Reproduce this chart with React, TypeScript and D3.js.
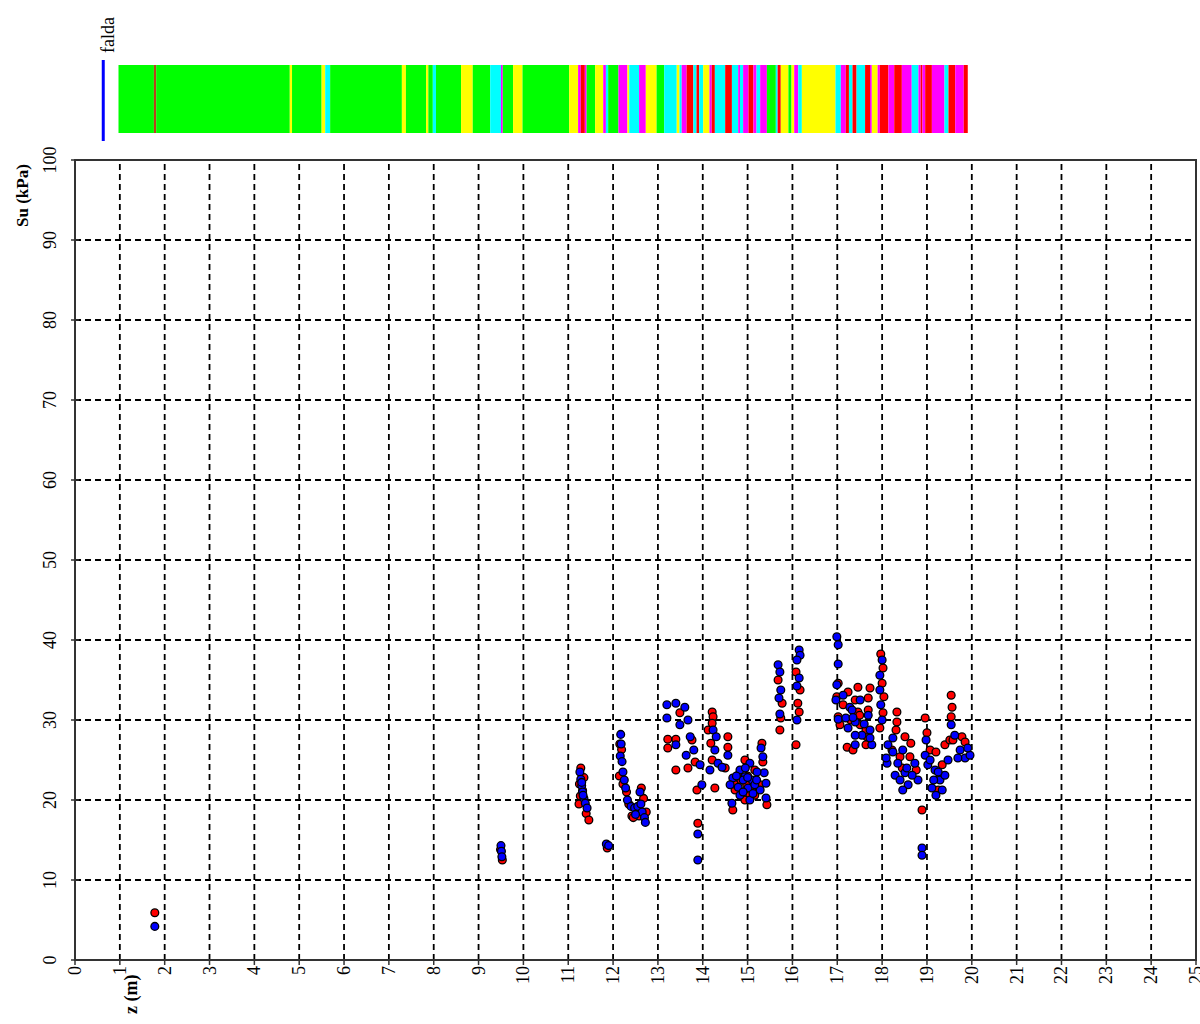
import React from "react";
import * as d3 from "d3";

// soil behaviour band along depth (m): top of each layer and its class
const bandTop = [
  0.97, 1.76, 1.81, 4.79, 4.84, 5.5, 5.58, 5.69, 7.29, 7.38, 7.83, 7.88, 7.98, 8.05, 8.61, 8.87, 9.26, 9.5, 9.54, 9.77,
  9.98, 11.02, 11.22, 11.28, 11.37, 11.41, 11.6, 11.78, 11.84, 11.89, 12.12, 12.32, 12.36, 12.58, 12.73, 12.97, 13.14,
  13.42, 13.48, 13.53, 13.64, 13.79, 13.86, 13.92, 14.01, 14.15, 14.2, 14.27, 14.5, 14.65, 14.79, 14.83, 14.9, 15.02,
  15.13, 15.2, 15.28, 15.43, 15.63, 15.67, 15.74, 15.91, 15.98, 16.04, 16.13, 16.21, 16.96, 17.08, 17.19, 17.26, 17.34,
  17.43, 17.62, 17.73, 17.77, 17.9, 17.95, 18.14, 18.27, 18.44, 18.66, 18.81, 18.86, 18.9, 18.96, 19.11, 19.39, 19.48,
  19.63, 19.82,
];
const bandClass = (
  "G B G Y G Y C G Y G " +
  "Y G C G Y G C M G Y " +
  "G Y M R M G Y M C G " +
  "M Y C M Y G C Y C M " +
  "R C R C Y M R C R C " +
  "M C M R M C M G C R " +
  "Y G Y M C Y C M R C " +
  "R C R M Y M R M R M " +
  "C M R M R M C R M R"
).split(" ");
const bandBottom = 19.91;
const bandColors: Record<string, string> = {
  G: "#00ff00",
  Y: "#ffff00",
  C: "#00ffff",
  M: "#ff00ff",
  R: "#ff0000",
  B: "#b8401c",
};

const faldaDepth = 0.63;

// [z (m), Su (kPa)]
const redPoints = [
  [1.78, 5.9],
  [9.49, 13.8], [9.53, 12.5],
  [11.28, 24.0], [11.25, 22.0], [11.27, 20.5], [11.24, 19.5], [11.4, 18.3], [11.46, 17.5], [11.35, 22.8], [11.32, 21.2],
  [11.87, 14.0],
  [12.15, 27.0], [12.19, 26.3], [12.14, 23.0], [12.22, 22.0], [12.3, 21.0], [12.35, 19.5], [12.42, 18.0], [12.52, 18.3],
  [12.58, 18.0], [12.63, 21.5], [12.68, 20.2], [12.74, 18.5], [12.45, 17.8],
  [13.22, 27.6], [13.22, 26.5], [13.4, 27.6], [13.4, 23.75], [13.76, 27.5], [13.83, 24.75], [13.67, 24.0], [13.87, 21.25],
  [13.89, 17.1], [13.49, 30.9],
  [14.21, 31.0], [14.23, 30.4], [14.21, 29.6], [14.18, 27.1], [14.21, 25.0], [14.27, 21.5], [14.12, 28.75],
  [14.56, 27.9], [14.56, 26.6], [14.5, 24.0], [14.94, 25.0], [15.16, 23.75], [14.87, 21.0], [15.16, 20.6], [15.05, 20.6],
  [15.34, 24.75], [15.32, 27.1], [15.43, 19.4], [14.67, 18.75], [14.79, 23.1], [15.28, 21.9], [14.94, 20.0], [14.72, 21.25],
  [14.7, 22.0], [14.85, 22.5], [15.0, 23.0], [15.1, 21.5], [14.98, 21.9],
  [15.68, 35.0], [15.77, 32.1], [15.74, 30.25], [15.72, 28.75],
  [16.08, 36.0], [16.17, 33.75], [16.12, 32.1], [16.15, 31.0], [16.08, 26.9],
  [17.02, 34.6], [16.99, 32.9],
  [17.24, 33.5], [17.46, 34.1], [17.73, 34.0], [17.02, 30.4], [17.69, 32.75], [17.69, 31.25], [17.22, 26.6], [17.66, 27.9],
  [17.4, 32.5], [17.46, 31.0], [17.51, 29.4], [17.35, 26.25], [17.64, 28.75], [17.64, 26.9], [17.06, 29.4], [17.13, 31.9],
  [17.3, 30.0], [17.5, 30.6],
  [17.97, 38.25], [18.02, 36.5], [18.0, 34.6], [18.04, 32.9], [18.02, 30.9], [17.95, 29.0],
  [18.33, 31.0], [18.33, 29.75], [18.31, 28.75], [18.51, 27.9], [18.64, 27.1], [18.62, 25.4], [18.76, 23.75], [18.4, 25.4],
  [18.22, 26.25], [18.45, 24.0],
  [18.96, 30.25], [19.0, 28.4], [19.07, 26.25], [18.89, 18.75],
  [19.2, 26.0], [19.34, 24.4], [19.4, 26.9], [19.25, 21.25], [19.51, 27.5], [19.3, 23.0],
  [19.54, 33.1], [19.56, 31.6], [19.54, 30.4], [19.58, 27.5], [19.78, 27.9], [19.85, 27.25],
];

const bluePoints = [
  [1.78, 4.2],
  [9.5, 14.3], [9.51, 13.6], [9.52, 12.9],
  [11.26, 23.5], [11.28, 22.6], [11.3, 21.8], [11.32, 21.0], [11.35, 20.2], [11.38, 19.6], [11.42, 19.0], [11.3, 22.2],
  [11.33, 20.6],
  [11.85, 14.5], [11.9, 14.3],
  [12.17, 28.2], [12.18, 27.0], [12.16, 25.5], [12.2, 24.8], [12.22, 23.5], [12.25, 22.5], [12.28, 21.5], [12.32, 20.0],
  [12.4, 19.2], [12.48, 19.0], [12.55, 19.2], [12.62, 19.5], [12.65, 18.5], [12.7, 17.8], [12.72, 17.2], [12.6, 21.0],
  [12.5, 18.2],
  [13.2, 31.9], [13.4, 32.1], [13.2, 30.25], [13.4, 26.9], [13.6, 31.6], [13.67, 30.0], [13.72, 27.9], [13.8, 26.25],
  [13.94, 24.4], [13.98, 21.9], [13.89, 15.75], [13.89, 12.5], [13.49, 29.4], [13.63, 25.6],
  [14.23, 28.75], [14.3, 27.9], [14.27, 26.25], [14.34, 24.6], [14.16, 23.75],
  [14.56, 25.6], [14.43, 24.1], [14.67, 22.75], [14.83, 23.75], [15.05, 24.6], [14.94, 22.9], [15.1, 22.5], [14.79, 21.6],
  [15.01, 21.5], [15.28, 21.25], [14.9, 22.5], [15.3, 26.5], [15.34, 25.4], [15.37, 23.4], [15.41, 22.1], [15.41, 20.25],
  [14.65, 19.6], [15.16, 21.9], [14.83, 20.6], [15.05, 20.0], [14.61, 21.9], [15.21, 23.5],
  [14.75, 23.0], [14.9, 21.0], [15.0, 22.8], [15.12, 20.8], [14.95, 24.0], [15.2, 22.5],
  [15.68, 36.9], [15.72, 36.0], [15.74, 33.75], [15.7, 32.75], [15.72, 30.75],
  [16.15, 38.75], [16.17, 38.1], [16.1, 37.5], [16.15, 35.25], [16.1, 34.25], [16.1, 30.0],
  [16.99, 40.4], [17.02, 39.4], [17.02, 37.0], [16.99, 34.4], [16.97, 32.5], [17.02, 30.1],
  [17.13, 33.1], [17.28, 31.6], [17.33, 31.25], [17.19, 30.25], [17.4, 29.75], [17.55, 28.1], [17.4, 26.9], [17.69, 30.6],
  [17.73, 28.75], [17.77, 26.9], [17.4, 28.1], [17.73, 27.75], [17.51, 32.5], [17.24, 29.0], [17.35, 30.3], [17.6, 29.5],
  [18.0, 37.5], [17.95, 35.6], [17.95, 33.75], [17.97, 31.9], [18.0, 30.0],
  [18.24, 27.75], [18.13, 26.9], [18.24, 26.0], [18.46, 26.25], [18.35, 24.6], [18.51, 23.4], [18.58, 21.9], [18.73, 24.6],
  [18.8, 22.5], [18.11, 24.6], [18.09, 25.25], [18.46, 21.25], [18.29, 23.1], [18.67, 23.1], [18.4, 22.5], [18.55, 24.0],
  [18.98, 27.5], [18.96, 25.6], [19.02, 24.4], [18.89, 14.0], [18.89, 13.1],
  [19.07, 25.0], [19.18, 23.75], [19.29, 22.5], [19.11, 21.5], [19.4, 23.1], [19.47, 25.0], [19.2, 20.6], [19.34, 21.25],
  [19.25, 23.5], [19.15, 22.5],
  [19.54, 29.4], [19.62, 28.1], [19.74, 26.25], [19.85, 25.25], [19.96, 25.6], [19.69, 25.25], [19.91, 26.5],
];

const zTicks = d3.range(0, 26);
const suTicks = d3.range(0, 101, 10);

const font = "'Liberation Serif', 'Times New Roman', serif";

const App = () => {
  const width = 1200;
  const height = 1024;
  const x = d3.scaleLinear().domain([0, 25]).range([75, 1196]);
  const y = d3.scaleLinear().domain([0, 100]).range([960, 160]);

  const bandY = 65;
  const bandH = 68;

  return (
    <svg
      width={width}
      height={height}
      style={{ position: "absolute", left: 0, top: 0, background: "#fff" }}
      fontFamily={font}
    >
      {/* soil band */}
      {bandTop.map((t, i) => {
        const end = i < bandTop.length - 1 ? bandTop[i + 1] : bandBottom;
        return (
          <rect
            key={"b" + i}
            x={x(t)}
            y={bandY}
            width={x(end) - x(t)}
            height={bandH}
            fill={bandColors[bandClass[i]]}
          />
        );
      })}

      {/* water table */}
      <line x1={x(faldaDepth)} x2={x(faldaDepth)} y1={60} y2={141} stroke="#0000ff" strokeWidth={3} />
      <text transform={`translate(${x(faldaDepth) + 11},53) rotate(-90)`} fontSize={18}>
        falda
      </text>

      {/* grid */}
      {zTicks
        .filter((d) => d > 0 && d < 25)
        .map((d) => (
          <line key={"gx" + d} x1={x(d)} x2={x(d)} y1={y(0)} y2={y(100)} stroke="#000" strokeWidth={1.8} strokeDasharray="6,4" />
        ))}
      {suTicks
        .filter((d) => d > 0 && d < 100)
        .map((d) => (
          <line key={"gy" + d} x1={x(0)} x2={x(25)} y1={y(d)} y2={y(d)} stroke="#000" strokeWidth={1.8} strokeDasharray="6,4" />
        ))}

      {/* frame and ticks */}
      <rect x={x(0)} y={y(100)} width={x(25) - x(0)} height={y(0) - y(100)} fill="none" stroke="#333" strokeWidth={2} />
      {zTicks.map((d) => (
        <line key={"tx" + d} x1={x(d)} x2={x(d)} y1={y(0)} y2={y(0) + 5} stroke="#333" strokeWidth={1.5} />
      ))}
      {suTicks.map((d) => (
        <line key={"ty" + d} x1={x(0) - 4} x2={x(0) + 4} y1={y(d)} y2={y(d)} stroke="#333" strokeWidth={1.5} />
      ))}

      {/* tick labels */}
      {zTicks.map((d) => (
        <text key={"lx" + d} transform={`translate(${x(d) + 6},966) rotate(-90)`} textAnchor="end" fontSize={18}>
          {d}
        </text>
      ))}
      {suTicks.map((d) => (
        <text key={"ly" + d} transform={`translate(56,${y(d)}) rotate(-90)`} textAnchor="middle" fontSize={18}>
          {d}
        </text>
      ))}

      {/* axis titles */}
      <text transform="translate(28,227) rotate(-90)" fontSize={17} fontWeight="bold">
        Su (kPa)
      </text>
      <text transform="translate(137,1014) rotate(-90)" fontSize={18} fontWeight="bold">
        z (m)
      </text>

      {/* points */}
      {redPoints.map((p, i) => (
        <circle key={"r" + i} cx={x(p[0])} cy={y(p[1])} r={3.9} fill="#ff0000" stroke="#000" strokeWidth={1.3} />
      ))}
      {bluePoints.map((p, i) => (
        <circle key={"bl" + i} cx={x(p[0])} cy={y(p[1])} r={3.9} fill="#0000ff" stroke="#000" strokeWidth={1.3} />
      ))}
    </svg>
  );
};

export default App;
